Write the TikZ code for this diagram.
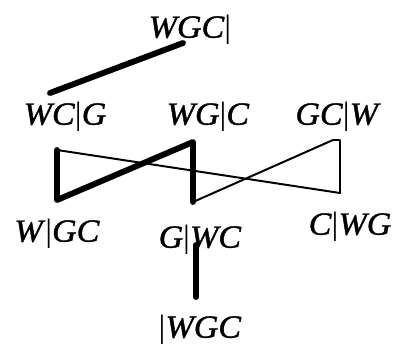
\documentclass[tikz,border=0pt]{standalone}
\usepackage{fontspec}
\newfontfamily\lblfont[FakeStretch=1.05, ItalicFeatures={FakeBold=1.2}]{Liberation Serif}
\newcommand{\bank}[2]{\textit{#1}\textup{|}\textit{#2}}
\tikzset{
  state/.style={inner sep=0pt, font=\lblfont\fontsize{23}{26}\selectfont},
  crossing/.style={line width=4.2pt, line cap=round, line join=round},
  unsafe/.style={line width=1.4pt, line cap=round, line join=round}
}
\begin{document}
\begin{tikzpicture}[x=0.025cm, y=-0.025cm]
    \useasboundingbox (0,0) rectangle (400,347);
    % states of the river crossing
    \node[state] (start) at (190,30) {\bank{WGC}{}};
    \node[state] (wcg) at (65,117) {\bank{WC}{G}};
    \node[state] (wgc) at (208,117) {\bank{WG}{C}};
    \node[state] (gcw) at (338,117) {\bank{GC}{W}};
    \node[state] (wgcb) at (57,234) {\bank{W}{GC}};
    \node[state] (gwc) at (200,240) {\bank{G}{WC}};
    \node[state] (cwg) at (350,227) {\bank{C}{WG}};
    \node[state] (goal) at (200,330) {\bank{}{WGC}};

    % the solution path
    \draw[crossing] ([shift={(-7,13)}]start.center) -- ([shift={(-15,-24)}]wcg.center);
    \draw[crossing] ([shift={(-8,33)}]wcg.center) -- ([shift={(0,-34)}]wgcb.center)
        -- ([shift={(-15,25)}]wgc.center) -- ([shift={(-7,-38)}]gwc.center);
    \draw[crossing] ([shift={(-4,5)}]gwc.center) -- ([shift={(-4,-33)}]goal.center);

    % the other moves
    \draw[unsafe] ([shift={(-8,33)}]wcg.center) -- ([shift={(-10,-34)}]cwg.center)
        -- ([shift={(2,23)}]gcw.center) -- ([shift={(-5,23)}]gcw.center)
        -- ([shift={(-7,-38)}]gwc.center);
\end{tikzpicture}
\end{document}
